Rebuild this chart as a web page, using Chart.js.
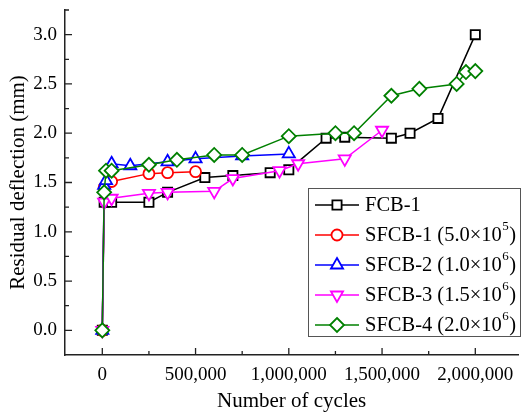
<!DOCTYPE html>
<html>
<head>
<meta charset="utf-8">
<script src="https://cdn.jsdelivr.net/npm/chart.js@4/dist/chart.umd.min.js"></script>
<style>
  html, body { margin: 0; padding: 0; background: #fff; }
  #box { width: 527px; height: 414px; }
</style>
</head>
<body>
<div id="box"><canvas id="graph"></canvas></div>
<script>
// data (cycles, mm)
const fcbX = [0, 10000, 50000, 250000, 350000, 550000, 700000, 900000, 1000000, 1200000, 1300000, 1550000, 1650000, 1800000, 2000000]
const fcbY = [0, 1.3, 1.3, 1.3, 1.4, 1.55, 1.57, 1.6, 1.63, 1.95, 1.96, 1.95, 2.0, 2.15, 3.0]

const sfcb1X = [0, 10000, 50000, 250000, 350000, 500000]
const sfcb1Y = [0, 1.45, 1.51, 1.59, 1.6, 1.61]

const sfcb2X = [0, 10000, 20000, 50000, 150000, 350000, 500000, 750000, 1000000]
const sfcb2Y = [0, 1.47, 1.52, 1.69, 1.67, 1.71, 1.74, 1.77, 1.79]

const sfcb3X = [0, 10000, 50000, 250000, 350000, 600000, 700000, 950000, 1050000, 1300000, 1500000]
const sfcb3Y = [0, 1.3, 1.34, 1.39, 1.4, 1.41, 1.54, 1.62, 1.69, 1.74, 2.03]

const sfcb4X = [0, 10000, 20000, 50000, 250000, 400000, 600000, 750000, 1000000, 1250000, 1350000, 1550000, 1700000, 1900000, 1950000, 2000000]
const sfcb4Y = [0, 1.4, 1.62, 1.62, 1.68, 1.73, 1.78, 1.78, 1.97, 2.0, 2.0, 2.38, 2.45, 2.5, 2.62, 2.63]

// legend names: main part + superscript exponent
const seriesNames = ['FCB-1', 'SFCB-1 (5.0\u00d710', 'SFCB-2 (1.0\u00d710', 'SFCB-3 (1.5\u00d710', 'SFCB-4 (2.0\u00d710']
const seriesExp = ['', '5', '6', '6', '6']

// tick labels
const xTicks = [0, 500000, 1000000, 1500000, 2000000]
const xMinor = [250000, 750000, 1250000, 1750000]
const yTicks = [0, 0.5, 1.0, 1.5, 2.0, 2.5, 3.0]
const yMinor = [0.25, 0.75, 1.25, 1.75, 2.25, 2.75, 3.25]

const serif = "'Liberation Serif', 'Times New Roman', serif"

function pts(xs, ys) {
  return xs.map((x, i) => ({x: x, y: ys[i]}))
}

const styles = [
  {color: '#000000', shape: 'rect', r: 6.5, rot: 0},
  {color: '#ff0000', shape: 'circle', r: 5.5, rot: 0},
  {color: '#0000ff', shape: 'triangle', r: 7, rot: 0},
  {color: '#ff00ff', shape: 'triangle', r: 7, rot: 180},
  {color: '#008000', shape: 'rectRot', r: 7, rot: 0}
]
const allData = [pts(fcbX, fcbY), pts(sfcb1X, sfcb1Y), pts(sfcb2X, sfcb2Y), pts(sfcb3X, sfcb3Y), pts(sfcb4X, sfcb4Y)]

const datasets = allData.map((d, i) => ({
  label: seriesNames[i] + seriesExp[i],
  data: d,
  showLine: true,
  borderColor: styles[i].color,
  borderWidth: 1.5,
  pointStyle: styles[i].shape,
  pointRotation: styles[i].rot,
  pointRadius: styles[i].r,
  pointBorderWidth: 1.8,
  pointBorderColor: styles[i].color,
  pointBackgroundColor: '#ffffff',
  order: 4 - i
}))

function drawMarker(ctx, st, x, y) {
  ctx.save()
  ctx.strokeStyle = st.color
  ctx.fillStyle = '#ffffff'
  ctx.lineWidth = 1.8
  ctx.beginPath()
  const r = st.r
  if (st.shape === 'rect') {
    const s = r * Math.SQRT1_2
    ctx.rect(x - s, y - s, 2 * s, 2 * s)
  } else if (st.shape === 'circle') {
    ctx.arc(x, y, r, 0, Math.PI * 2)
  } else if (st.shape === 'triangle') {
    const a0 = st.rot * Math.PI / 180
    for (let k = 0; k < 3; k++) {
      const a = a0 + k * 2 * Math.PI / 3
      const px = x + Math.sin(a) * r, py = y - Math.cos(a) * r
      if (k === 0) ctx.moveTo(px, py); else ctx.lineTo(px, py)
    }
    ctx.closePath()
  } else {
    ctx.moveTo(x, y - r); ctx.lineTo(x + r, y); ctx.lineTo(x, y + r); ctx.lineTo(x - r, y)
    ctx.closePath()
  }
  ctx.fill()
  ctx.stroke()
  ctx.restore()
}

// inward major/minor ticks
const tickPlugin = {
  id: 'inTicks',
  afterDatasetsDraw(chart) {
    const ctx = chart.ctx
    const xs = chart.scales.x, ys = chart.scales.y
    const a = chart.chartArea
    ctx.save()
    ctx.strokeStyle = '#222'
    ctx.lineWidth = 1.3
    ctx.beginPath()
    xTicks.forEach(v => { const p = xs.getPixelForValue(v); ctx.moveTo(p, a.bottom); ctx.lineTo(p, a.bottom - 7) })
    xMinor.forEach(v => { const p = xs.getPixelForValue(v); ctx.moveTo(p, a.bottom); ctx.lineTo(p, a.bottom - 4) })
    yTicks.forEach(v => { const p = ys.getPixelForValue(v); ctx.moveTo(a.left, p); ctx.lineTo(a.left + 7, p) })
    yMinor.forEach(v => { const p = ys.getPixelForValue(v); ctx.moveTo(a.left, p); ctx.lineTo(a.left + 4, p) })
    ctx.stroke()
    ctx.restore()
  }
}

// boxed legend inside the plot
const legendPlugin = {
  id: 'boxLegend',
  afterDraw(chart) {
    const ctx = chart.ctx
    const bx = 308, by = 188, bw = 212, bh = 148
    ctx.save()
    ctx.fillStyle = '#ffffff'
    ctx.fillRect(bx, by, bw, bh)
    ctx.strokeStyle = '#555'
    ctx.lineWidth = 1
    ctx.strokeRect(bx + 0.5, by + 0.5, bw, bh)
    for (let i = 0; i < seriesNames.length; i++) {
      const y = by + 17 + i * 30
      ctx.strokeStyle = styles[i].color
      ctx.lineWidth = 1.5
      ctx.beginPath(); ctx.moveTo(315, y); ctx.lineTo(359, y); ctx.stroke()
      drawMarker(ctx, styles[i], 337, y)
      ctx.fillStyle = '#000'
      ctx.textBaseline = 'middle'
      ctx.textAlign = 'left'
      ctx.font = '20.5px ' + serif
      const t = seriesNames[i]
      ctx.fillText(t, 365, y + 1)
      if (seriesExp[i]) {
        let w = ctx.measureText(t).width
        ctx.font = '13px ' + serif
        ctx.fillText(seriesExp[i], 365 + w + 0.5, y - 8)
        w += ctx.measureText(seriesExp[i]).width + 1
        ctx.font = '20.5px ' + serif
        ctx.fillText(')', 365 + w, y + 1)
      }
    }
    ctx.restore()
  }
}

const ctx = document.getElementById('graph').getContext('2d')
const chart = new Chart(ctx, {
  type: 'scatter',
  data: { datasets: datasets },
  options: {
    responsive: true,
    maintainAspectRatio: false,
    animation: false,
    layout: { padding: { top: 10, right: 0, left: 0, bottom: 0 } },
    plugins: { legend: { display: false }, tooltip: { enabled: false } },
    scales: {
      x: {
        type: 'linear',
        min: -200000,
        max: 2230000,
        afterBuildTicks: s => { s.ticks = xTicks.map(v => ({value: v})) },
        afterFit: s => { s.height = 59; s.paddingLeft = 0; s.paddingRight = 0 },
        grid: { display: false, drawTicks: false },
        border: { display: true, color: '#222', width: 1.5 },
        ticks: {
          padding: 9,
          color: '#000',
          font: { family: serif, size: 19 },
          maxRotation: 0,
          callback: v => v.toLocaleString('en-US')
        },
        title: {
          display: true,
          text: 'Number of cycles',
          color: '#000',
          font: { family: serif, size: 21 },
          padding: { top: 0, bottom: 0 }
        }
      },
      y: {
        min: -0.25,
        max: 3.25,
        afterBuildTicks: s => { s.ticks = yTicks.map(v => ({value: v})) },
        afterFit: s => { s.width = 65; s.paddingTop = 0; s.paddingBottom = 0 },
        grid: { display: false, drawTicks: false },
        border: { display: true, color: '#222', width: 1.5 },
        ticks: {
          padding: 8,
          color: '#000',
          font: { family: serif, size: 19 },
          callback: v => v.toFixed(1)
        },
        title: {
          display: true,
          text: 'Residual deflection (mm)',
          color: '#000',
          font: { family: serif, size: 21 },
          padding: { top: 6, bottom: 0 }
        }
      }
    }
  },
  plugins: [tickPlugin, legendPlugin]
})
</script>
</body>
</html>
